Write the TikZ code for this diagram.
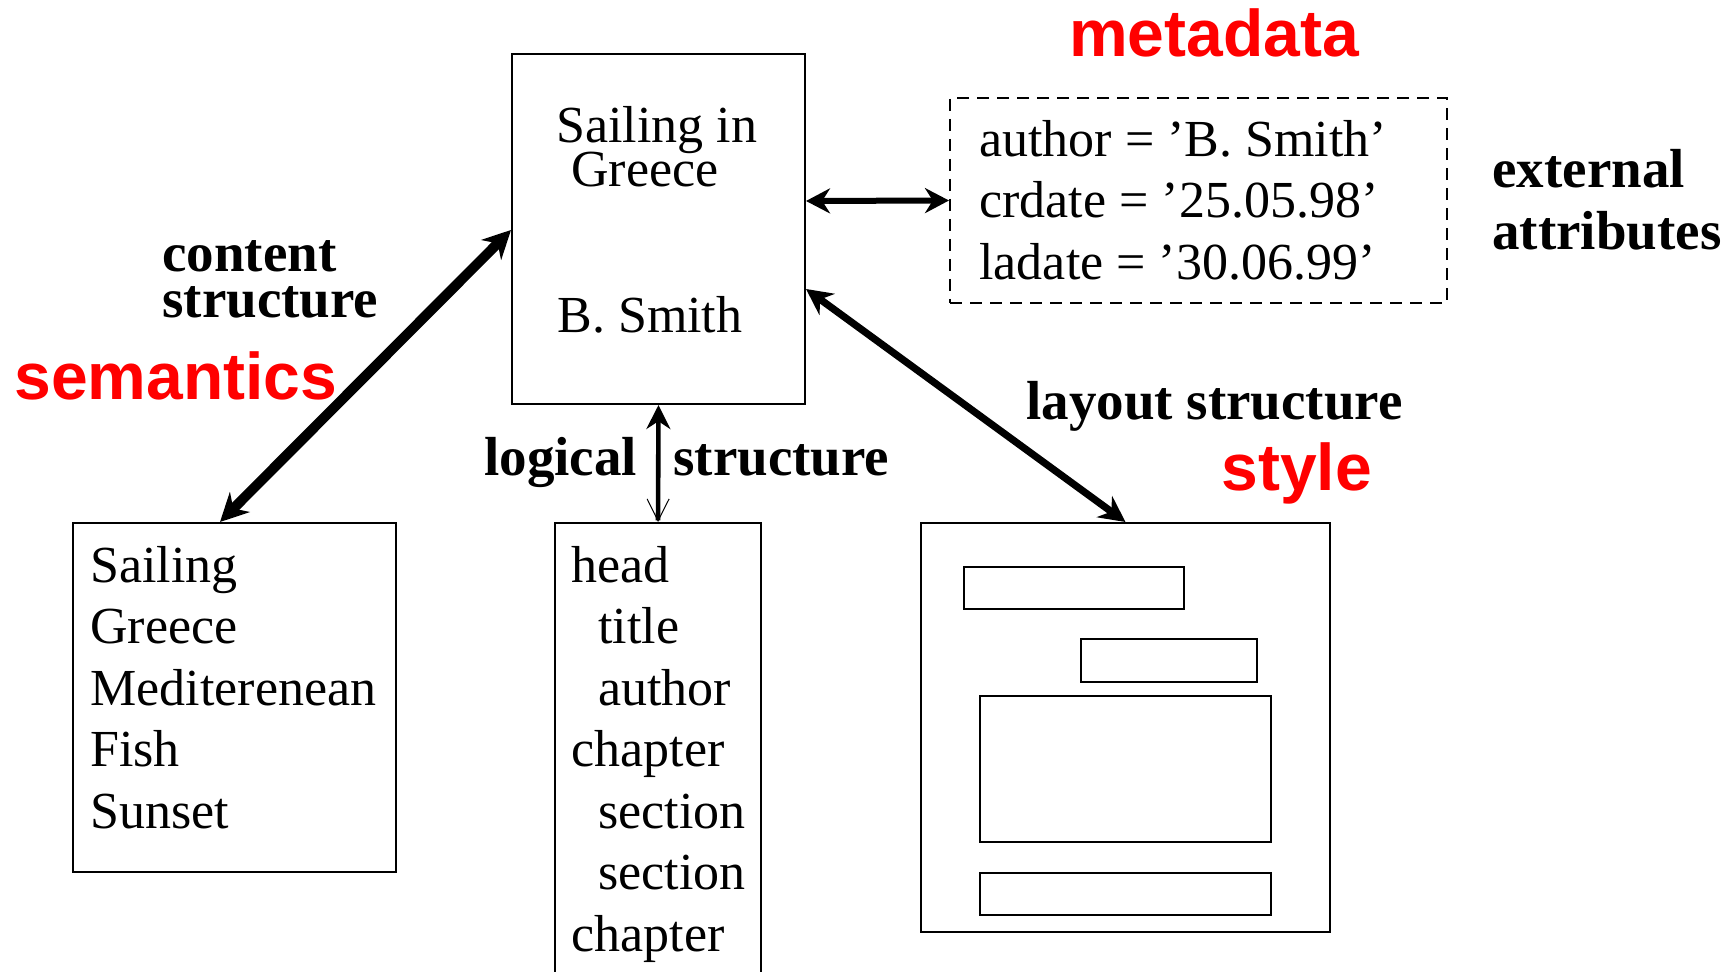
\documentclass[tikz,border=0pt]{standalone}
\usepackage{fontspec}
\setmainfont{Liberation Serif}
\setsansfont{Liberation Sans}
\usetikzlibrary{arrows.meta}
\newcommand{\txtsize}{\fontsize{26}{30}\selectfont}
\newcommand{\lblsize}{\fontsize{27.5}{31}\selectfont\bfseries}
\newcommand{\tagsize}{\fontsize{33}{38}\selectfont\sffamily\bfseries}

\begin{document}
\begin{tikzpicture}[x=0.5pt,y=-0.5pt,
                box/.style = {draw, line width=1pt, inner sep=0pt},
                txt/.style = {font=\txtsize, anchor=base west, inner sep=0pt},
                lbl/.style = {font=\lblsize, anchor=base west, inner sep=0pt},
                tag/.style = {font=\tagsize, text=red, anchor=base west, inner sep=0pt}]
                \useasboundingbox (0,0) rectangle (1733,972);
                % boxes
                \node[box, minimum width=146.5pt, minimum height=175pt] (main) at (658.5,229) {};
                \node[box, dash pattern=on 6pt off 4pt, minimum width=248.5pt, minimum height=102.5pt] (meta) at (1198.5,200.5) {};
                \node[box, minimum width=161.5pt, minimum height=174.5pt] (content) at (234.5,697.5) {};
                \node[box, minimum width=103pt, minimum height=233.5pt] (logical) at (658,756.5) {};
                \node[box, minimum width=204.5pt, minimum height=204.5pt] (layout) at (1125.5,727.5) {};
                \node[box, minimum width=110pt, minimum height=21pt] (r1) at (1074,588) {};
                \node[box, minimum width=88pt, minimum height=21.5pt] (r2) at (1169,660.5) {};
                \node[box, minimum width=145.5pt, minimum height=73pt] (r3) at (1125.5,769) {};
                \node[box, minimum width=145.5pt, minimum height=21pt] (r4) at (1125.5,894) {};
                % document
                \node[txt] (title1) at (556,143) {Sailing in};
                \node[txt] (title2) at (571,187) {Greece};
                \node[txt] (auth) at (557,333) {B. Smith};
                % attributes
                \node[txt] (m1) at (979,157) {author = 'B. Smith'};
                \node[txt] (m2) at (979,218) {crdate = '25.05.98'};
                \node[txt] (m3) at (979,280) {ladate = '30.06.99'};
                % content
                \node[txt] (c1) at (90,582) {Sailing};
                \node[txt] (c2) at (90,643.5) {Greece};
                \node[txt] (c3) at (90,705) {Mediterenean};
                \node[txt] (c4) at (90,766.5) {Fish};
                \node[txt] (c5) at (90,828) {Sunset};
                % logical
                \node[txt] (l1) at (571,582) {head};
                \node[txt] (l2) at (598,643.5) {title};
                \node[txt] (l3) at (598,705) {author};
                \node[txt] (l4) at (571,766.5) {chapter};
                \node[txt] (l5) at (598,828) {section};
                \node[txt] (l6) at (598,889.5) {section};
                \node[txt] (l7) at (571,951) {chapter};
                % labels
                \node[lbl] (ext1) at (1492,188) {external};
                \node[lbl] (ext2) at (1492,250) {attributes};
                \node[lbl] (cs1) at (162,272) {content};
                \node[lbl] (cs2) at (162,318) {structure};
                \node[lbl] (ls1) at (484,476) {logical};
                \node[lbl] (ls2) at (673,476) {structure};
                \node[lbl] (lay) at (1026,420) {layout structure};
                \node[tag, anchor=base] (tmeta) at (1214,57) {metadata};
                \node[tag] (tsem) at (14,400) {semantics};
                \node[tag] (tstyle) at (1221,490) {style};
                % arrows
                \draw[line width=5pt, {Stealth[length=14pt,width=14pt]}-{Stealth[length=14pt,width=14pt]}]
                    ([xshift=74pt]content.north west) -- ([yshift=-88.5pt]main.north west);
                \draw[line width=3pt, {Stealth[length=12pt,width=12.5pt]}-{Stealth[length=12pt,width=12.5pt]}]
                    ([yshift=14pt]main.east) -- (meta.west);
                \draw[line width=2.3pt, {Straight Barb[length=11pt,width=11pt,line width=0.5pt]}-{Stealth[length=12pt,width=12pt]}]
                    (logical.north) -- (main.south);
                \draw[line width=3.6pt, {Stealth[length=13pt,width=13pt]}-{Stealth[length=13pt,width=13pt]}]
                    ([yshift=-30pt]main.east) -- (layout.north);
\end{tikzpicture}
\end{document}
